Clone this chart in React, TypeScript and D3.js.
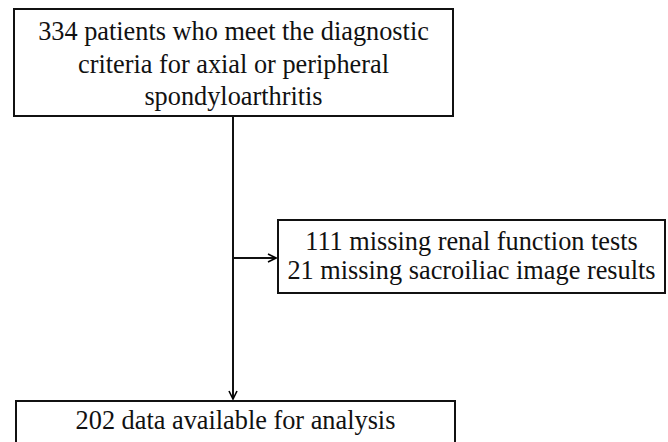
import React from "react";
import * as d3 from "d3";

const topLines = ["334 patients who meet the diagnostic", "criteria for axial or peripheral", "spondyloarthritis"];
const sideLines = ["111 missing renal function tests", "21 missing sacroiliac image results"];
const bottomLines = ["202 data available for analysis"];

const W = 668, H = 442;
const FONT = "'Liberation Serif', 'Times New Roman', Times, serif";
const FS = 26.3;
const stroke = "#111";
const sw = 2;

const boxes = [
  { x: 14, y: 9, w: 439, h: 107, lines: topLines, y0: 40, dy: 32.5 },
  { x: 278, y: 220, w: 387, h: 73, lines: sideLines, y0: 250, dy: 29 },
  { x: 16, y: 401, w: 439, h: 60, lines: bottomLines, y0: 429, dy: 32 },
];

const line = d3.line();

export default function App() {
  return (
    <svg width={W} height={H} style={{ position: "absolute", left: 0, top: 0, background: "#fff" }}>
      <defs>
        <marker id="arr" viewBox="0 0 10 10" refX={9} refY={5} markerWidth={10} markerHeight={10}
          markerUnits="userSpaceOnUse" orient="auto">
          <path d="M1,1 L9,5 L1,9" fill="none" stroke="#000" strokeWidth={1.6} />
        </marker>
      </defs>
      {boxes.map((b, bi) => (
        <g key={bi}>
          <rect x={b.x} y={b.y} width={b.w} height={b.h} fill="#fff" stroke={stroke} strokeWidth={sw} />
          {b.lines.map((t, i) => (
            <text key={i} x={b.x + b.w / 2} y={b.y0 + i * b.dy} textAnchor="middle" fill="#111"
              style={{ fontFamily: FONT, fontSize: `${FS}px` }}>{t}</text>
          ))}
        </g>
      ))}
      <path d={line([[233, 116], [233, 399]]) || ""} stroke={stroke} strokeWidth={sw} fill="none" markerEnd="url(#arr)" />
      <path d={line([[233, 258], [276, 258]]) || ""} stroke={stroke} strokeWidth={sw} fill="none" markerEnd="url(#arr)" />
    </svg>
  );
}
